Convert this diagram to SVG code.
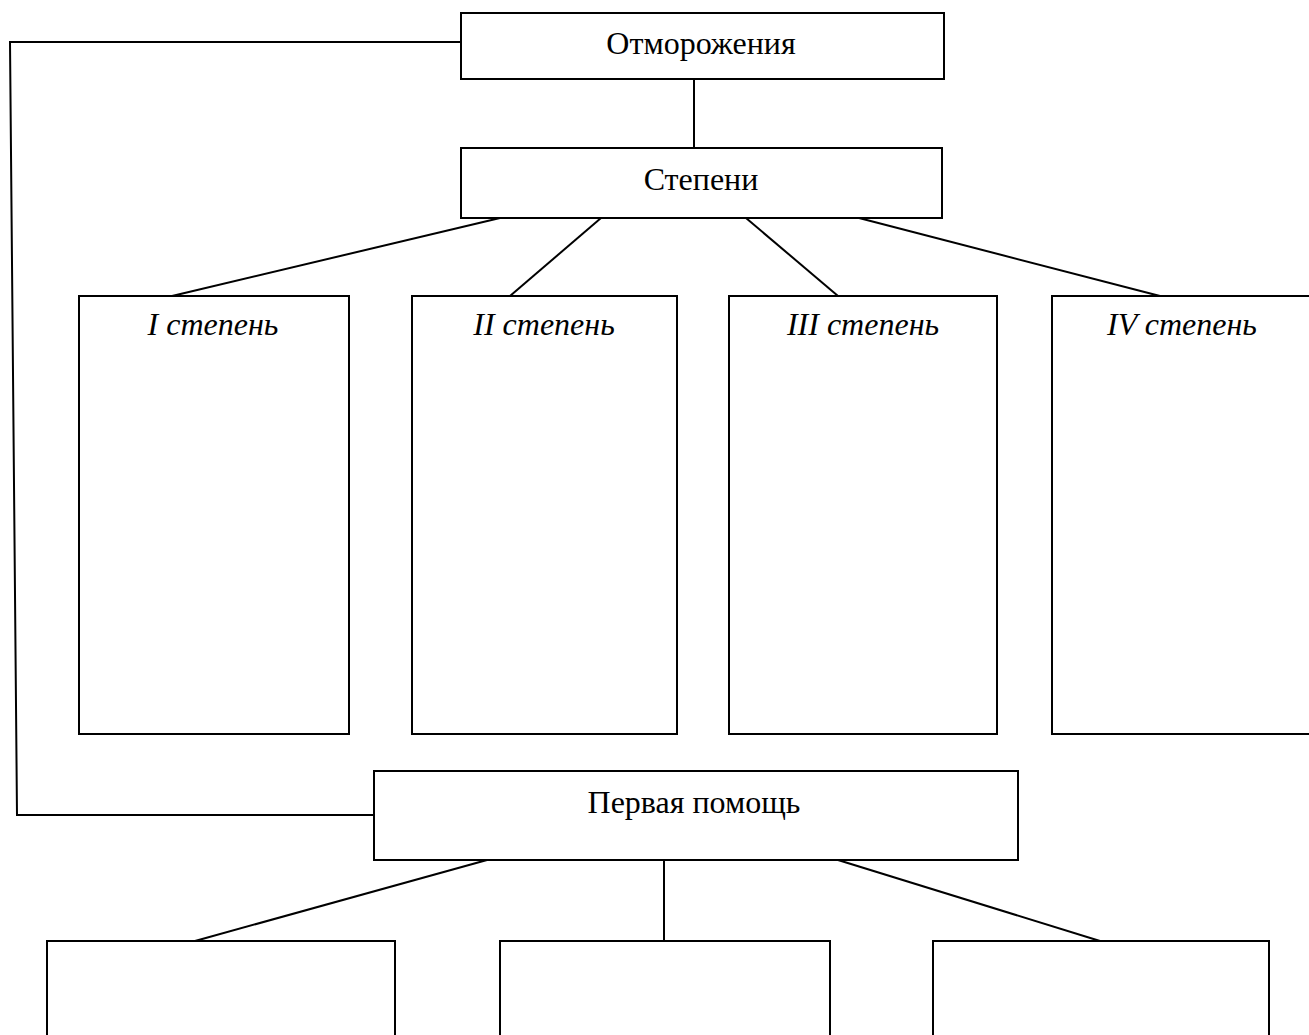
<svg xmlns="http://www.w3.org/2000/svg" width="1309" height="1035" viewBox="0 0 1309 1035">
<style>
.b{fill:#fff;stroke:#000;stroke-width:2}
.c{fill:none;stroke:#000;stroke-width:2}
.t{font-family:"Liberation Serif","Times New Roman",serif;font-size:32px;fill:#000;text-anchor:middle}
.i{font-style:italic}
</style>
<rect width="1309" height="1035" fill="#fff"/>
<g id="connectors">
<polyline class="c" points="461,42 10,42 17,815 374,815"/>
<line class="c" x1="694" y1="79" x2="694" y2="148"/>
<line class="c" x1="500" y1="218" x2="172" y2="296"/>
<line class="c" x1="601" y1="218" x2="510" y2="296"/>
<line class="c" x1="746" y1="218" x2="838" y2="296"/>
<line class="c" x1="859" y1="218" x2="1160" y2="296"/>
<line class="c" x1="487" y1="860" x2="195" y2="941"/>
<line class="c" x1="664" y1="860" x2="664" y2="941"/>
<line class="c" x1="838" y1="860" x2="1100" y2="941"/>
</g>
<g id="otmorozheniya"><rect class="b" x="461" y="13" width="483" height="66"/><text class="t" x="701" y="54">Отморожения</text></g>
<g id="stepeni"><rect class="b" x="461" y="148" width="481" height="70"/><text class="t" x="701" y="190">Степени</text></g>
<g id="s1"><rect class="b" x="79" y="296" width="270" height="438"/><text class="t i" x="213" y="335">I степень</text></g>
<g id="s2"><rect class="b" x="412" y="296" width="265" height="438"/><text class="t i" x="544" y="335">II степень</text></g>
<g id="s3"><rect class="b" x="729" y="296" width="268" height="438"/><text class="t i" x="863" y="335">III степень</text></g>
<g id="s4"><rect class="b" x="1052" y="296" width="270" height="438"/><text class="t i" x="1182" y="335">IV степень</text></g>
<g id="pomosh"><rect class="b" x="374" y="771" width="644" height="89"/><text class="t" x="694" y="813">Первая помощь</text></g>
<g id="p1"><rect class="b" x="47" y="941" width="348" height="110"/></g>
<g id="p2"><rect class="b" x="500" y="941" width="330" height="110"/></g>
<g id="p3"><rect class="b" x="933" y="941" width="336" height="110"/></g>
</svg>
